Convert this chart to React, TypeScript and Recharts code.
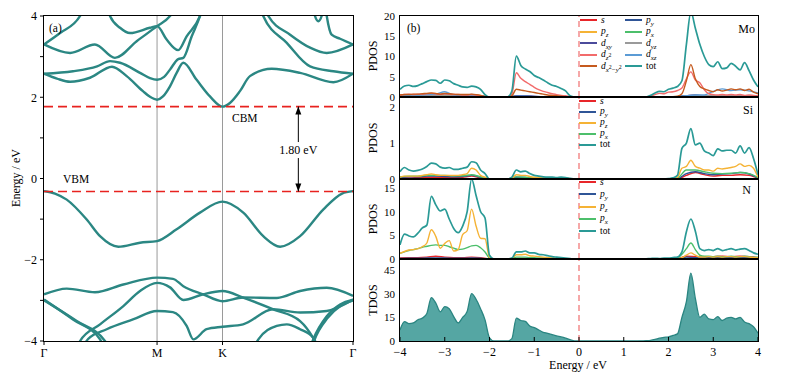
import React from 'react';
import { LineChart, Line, ComposedChart, Area, XAxis, YAxis, ReferenceLine } from 'recharts';

const FONT = '"Liberation Serif", "Times New Roman", serif';
const TEAL = '#2b8783';

// ---- (a) band structure ----
const kTicks = [0, 0.577, 0.911, 1.577];
const kLabels = ['Γ', 'M', 'K', 'Γ'];
const bandTicks = [-4, -3, -2, -1, 0, 1, 2, 3, 4];
const vbm = -0.32;
const cbm = 1.77;
const gapK = 1.298;
const gapLabel = '1.80 eV';

// each band: [k, E]
const vb1 = [[0, -0.31], [0.056, -0.37], [0.116, -0.52], [0.218, -1.01], [0.286, -1.42], [0.379, -1.68], [0.49, -1.58], [0.577, -1.54], [0.677, -1.25], [0.796, -0.84], [0.911, -0.57], [1.017, -0.84], [1.119, -1.42], [1.205, -1.68], [1.307, -1.42], [1.426, -0.76], [1.521, -0.37], [1.577, -0.31]];
const vb2 = [[0, -2.85], [0.116, -2.71], [0.26, -2.8], [0.405, -2.61], [0.577, -2.44], [0.658, -2.47], [0.711, -2.65], [0.812, -2.85], [0.911, -3.02], [1.016, -2.93], [1.189, -2.94], [1.307, -2.77], [1.443, -2.69], [1.577, -2.89]];
const vb3a = [[0, -2.98], [0.148, -3.47], [0.286, -3.96], [0.301, -4.1]];
const vb3b = [[0, -3.0], [0.167, -3.51], [0.311, -4.0], [0.327, -4.15]];
const vb4 = [[0.174, -4.1], [0.184, -4.0], [0.286, -3.59], [0.405, -3.14], [0.49, -2.77], [0.577, -2.57], [0.643, -2.68], [0.711, -2.99], [0.812, -2.85], [0.911, -2.77], [1.016, -2.93], [1.169, -3.22], [1.307, -3.51], [1.373, -3.92], [1.393, -4.1]];
const vb5 = [[0.204, -4.1], [0.225, -3.95], [0.32, -3.71], [0.454, -3.47], [0.577, -3.26], [0.658, -3.29], [0.728, -3.63], [0.762, -3.96], [0.83, -3.71], [0.911, -3.65], [1.016, -3.59], [1.169, -3.22], [1.307, -3.3], [1.443, -3.26], [1.577, -2.98]];
const vb6 = [[1.077, -4.1], [1.094, -3.96], [1.188, -3.63], [1.239, -3.59], [1.307, -3.71], [1.374, -3.92], [1.393, -4.1]];
const vb7a = [[1.363, -4.1], [1.374, -3.96], [1.443, -3.39], [1.511, -3.1], [1.577, -2.98]];
const vb7b = [[1.368, -4.15], [1.38, -3.98], [1.448, -3.43], [1.514, -3.13], [1.577, -3.0]];

const cb1 = [[0, 2.58], [0.066, 2.46], [0.133, 2.38], [0.235, 2.48], [0.347, 2.75], [0.422, 2.52], [0.505, 2.15], [0.541, 2.01], [0.577, 1.94], [0.607, 2.02], [0.643, 2.27], [0.677, 2.6], [0.711, 2.85], [0.779, 2.43], [0.847, 2.02], [0.911, 1.77], [0.949, 1.86], [1.0, 2.15], [1.051, 2.52], [1.162, 2.7], [1.307, 2.6], [1.477, 2.37], [1.577, 2.58]];
const cb2 = [[0, 2.58], [0.148, 2.64], [0.271, 2.76], [0.337, 2.89], [0.388, 2.85], [0.49, 2.6], [0.541, 2.47], [0.577, 2.43], [0.613, 2.5], [0.643, 2.68], [0.685, 2.94], [0.711, 2.97], [0.754, 3.5], [0.796, 4.0], [0.82, 4.4]];
const cb3 = [[0, 3.3], [0.133, 3.09], [0.26, 3.3], [0.362, 2.97], [0.473, 3.38], [0.577, 3.75], [0.643, 4.0], [0.67, 4.2]];
const cb4 = [[0.316, 4.3], [0.337, 4.0], [0.388, 3.71], [0.439, 3.58], [0.541, 3.71], [0.577, 3.75], [0.626, 3.42], [0.685, 3.16], [0.728, 3.5], [0.796, 4.0], [0.817, 4.3]];
const cb5 = [[0, 3.3], [0.082, 3.58], [0.184, 4.0], [0.204, 4.2]];
const cb6 = [[1.097, 4.3], [1.119, 4.0], [1.239, 3.34], [1.358, 2.76], [1.477, 2.64], [1.577, 2.58]];
const cb7 = [[1.123, 4.3], [1.145, 4.0], [1.256, 3.54], [1.358, 3.22], [1.443, 3.09], [1.577, 3.3]];
const cb8 = [[1.434, 4.3], [1.443, 4.0], [1.468, 3.54], [1.511, 3.44], [1.577, 3.3]];
const cb9 = [[1.373, 4.3], [1.383, 4.0], [1.4, 3.87], [1.417, 4.0], [1.424, 4.3]];

const bands = [vb1, vb2, vb3a, vb3b, vb4, vb5, vb6, vb7a, vb7b, cb1, cb2, cb3, cb4, cb5, cb6, cb7, cb8, cb9];

// ---- (b) DOS ----
const energy = [-4, -3.9, -3.8, -3.7, -3.6, -3.5, -3.4, -3.3, -3.2, -3.1, -3, -2.9, -2.8, -2.7, -2.6, -2.5, -2.4, -2.3, -2.2, -2.1, -2, -1.9, -1.8, -1.7, -1.6, -1.5, -1.4, -1.3, -1.2, -1.1, -1, -0.9, -0.8, -0.7, -0.6, -0.5, -0.4, -0.3, -0.2, -0.1, 0, 0.1, 0.2, 0.3, 0.4, 0.5, 0.6, 0.7, 0.8, 0.9, 1, 1.1, 1.2, 1.3, 1.4, 1.5, 1.6, 1.7, 1.8, 1.9, 2, 2.1, 2.2, 2.3, 2.4, 2.5, 2.6, 2.7, 2.8, 2.9, 3, 3.1, 3.2, 3.3, 3.4, 3.5, 3.6, 3.7, 3.8, 3.9, 4];
const energyCoarse = [-4, -3.8, -3.6, -3.4, -3.2, -3, -2.8, -2.6, -2.4, -2.2, -2, -1.8, -1.6, -1.4, -1.2, -1, -0.8, -0.6, -0.4, -0.2, 0, 0.2, 0.4, 0.6, 0.8, 1, 1.2, 1.4, 1.6, 1.8, 2, 2.2, 2.4, 2.6, 2.8, 3, 3.2, 3.4, 3.6, 3.8, 4];
const eTicks = [-4, -3, -2, -1, 0, 1, 2, 3, 4];

const moTot = [1.9, 2.7, 2.9, 2.6, 2.8, 3.3, 3.8, 4.2, 4.1, 3.4, 4.2, 4.0, 3.3, 2.9, 2.5, 2.4, 2.7, 2.5, 1.9, 0.6, 0, 0, 0, 0, 0, 1.5, 10.1, 7.8, 6.9, 6.3, 5.3, 4.8, 4.2, 3.5, 2.9, 2.6, 2.1, 1.5, 0.3, 0, 0, 0, 0, 0, 0, 0, 0, 0, 0, 0, 0, 0, 0, 0, 0, 0, 0.4, 1.0, 1.4, 1.3, 1.9, 2.2, 2.6, 4.0, 13, 21, 17, 13, 10, 8.0, 7.5, 8.7, 7.0, 7.2, 8.3, 7.6, 6.7, 8.5, 6.5, 4.2, 2.5];
const moDz2 = [0.5, 0.6, 0.7, 0.6, 0.7, 0.7, 0.8, 0.9, 0.8, 0.6, 0.8, 0.7, 0.6, 0.6, 0.5, 0.5, 0.6, 0.5, 0.3, 0.1, 0, 0, 0, 0, 0, 0.8, 6.0, 4.6, 3.8, 3.1, 2.4, 1.8, 1.4, 1.1, 0.8, 0.6, 0.4, 0.3, 0.1, 0, 0, 0, 0, 0, 0, 0, 0, 0, 0, 0, 0, 0, 0, 0, 0, 0, 0.2, 0.6, 0.9, 0.8, 1.2, 1.3, 1.6, 2.2, 4.5, 6.2, 4.2, 3.5, 1.8, 0.8, 0.6, 0.5, 0.6, 0.5, 0.6, 0.5, 0.6, 0.4, 0.5, 0.4, 0.3];
const moDx2y2 = [0.5, 0.6, 0.6, 0.7, 0.7, 0.8, 0.9, 1.0, 0.9, 0.7, 0.9, 0.8, 0.7, 0.6, 0.6, 0.6, 0.7, 0.6, 0.4, 0.1, 0, 0, 0, 0, 0, 0.3, 1.9, 1.7, 1.5, 1.3, 1.1, 0.9, 0.7, 0.5, 0.4, 0.3, 0.2, 0.1, 0.05, 0, 0, 0, 0, 0, 0, 0, 0, 0, 0, 0, 0, 0, 0, 0, 0, 0, 0, 0.05, 0.1, 0.1, 0.1, 0.1, 0.2, 0.8, 4.0, 8.0, 4.5, 2.6, 2.0, 1.6, 1.3, 1.8, 1.5, 1.7, 2.0, 1.8, 2.0, 1.6, 1.9, 1.2, 0.8];
const moS = [0.2, 0.2, 0.3, 0.3, 0.3, 0.2, 0.2, 0.2, 0.2, 0.1, 0, 0, 0, 0.1, 0.1, 0.05, 0, 0, 0, 0, 0, 0, 0, 0, 0, 0, 0, 0, 0, 0.05, 0.1, 0.1, 0.3, 0.4, 0.3, 0.2, 0.2, 0.2, 0.2, 0.2, 0.1];
const moPy = [0.1, 0.1, 0.2, 0.2, 0.2, 0.2, 0.1, 0.1, 0.1, 0.1, 0, 0, 0, 0.05, 0.05, 0.05, 0, 0, 0, 0, 0, 0, 0, 0, 0, 0, 0, 0, 0, 0, 0, 0.1, 0.2, 0.3, 0.2, 0.2, 0.2, 0.2, 0.1, 0.1, 0.1];
const moPz = [0.3, 0.3, 0.3, 0.4, 0.4, 0.3, 0.3, 0.3, 0.5, 0.4, 0, 0, 0, 0.2, 0.2, 0.1, 0.1, 0, 0, 0, 0, 0, 0, 0, 0, 0, 0, 0, 0, 0, 0.05, 0.1, 0.2, 0.3, 0.2, 0.2, 0.2, 0.2, 0.2, 0.1, 0.1];
const moPx = [0.1, 0.2, 0.2, 0.2, 0.2, 0.2, 0.1, 0.1, 0.1, 0.1, 0, 0, 0, 0.05, 0.05, 0, 0, 0, 0, 0, 0, 0, 0, 0, 0, 0, 0, 0, 0, 0, 0, 0.1, 0.2, 0.3, 0.2, 0.2, 0.2, 0.2, 0.1, 0.1, 0.1];
const moDxy = [0.4, 0.5, 0.5, 0.6, 0.6, 0.7, 0.5, 0.5, 0.4, 0.3, 0, 0, 0, 0.3, 0.3, 0.2, 0.1, 0.1, 0, 0, 0, 0, 0, 0, 0, 0, 0, 0, 0, 0, 0, 0.1, 0.3, 0.5, 0.3, 0.3, 0.3, 0.3, 0.3, 0.2, 0.2];
const moDyz = [0.3, 0.3, 0.4, 0.4, 0.4, 0.5, 0.4, 0.3, 0.3, 0.2, 0, 0, 0, 0.1, 0.1, 0.1, 0, 0, 0, 0, 0, 0, 0, 0, 0, 0, 0, 0, 0, 0, 0, 0.1, 0.2, 0.4, 0.3, 0.3, 0.4, 0.4, 0.3, 0.3, 0.2];
const moDxz = [0.4, 0.5, 0.5, 0.6, 0.7, 1.3, 0.5, 0.4, 0.4, 0.3, 0, 0, 0, 0.2, 0.2, 0.1, 0.1, 0, 0, 0, 0, 0, 0, 0, 0, 0, 0, 0, 0, 0, 0, 0.1, 0.3, 0.5, 0.5, 1.4, 2.0, 1.6, 1.8, 1.5, 1.0];

const siTot = [0.2, 0.32, 0.25, 0.22, 0.24, 0.28, 0.35, 0.44, 0.42, 0.33, 0.3, 0.32, 0.27, 0.27, 0.3, 0.33, 0.48, 0.45, 0.25, 0.15, 0, 0, 0, 0, 0, 0.05, 0.25, 0.2, 0.22, 0.15, 0.1, 0.08, 0.06, 0.05, 0.05, 0.04, 0.05, 0.04, 0.02, 0, 0, 0, 0, 0, 0, 0, 0, 0, 0, 0, 0, 0, 0, 0, 0, 0, 0, 0, 0, 0, 0.01, 0.03, 0.1, 0.85, 1.0, 1.4, 0.95, 1.0, 0.78, 0.72, 0.65, 0.84, 0.78, 0.8, 0.8, 0.72, 0.92, 0.72, 0.87, 0.57, 0.12];
const siPz = [0.05, 0.08, 0.08, 0.08, 0.08, 0.1, 0.12, 0.14, 0.12, 0.1, 0.1, 0.1, 0.1, 0.1, 0.12, 0.15, 0.3, 0.25, 0.1, 0.05, 0, 0, 0, 0, 0, 0.02, 0.12, 0.1, 0.1, 0.07, 0.05, 0.04, 0.03, 0.03, 0.02, 0.02, 0.02, 0.02, 0.01, 0, 0, 0, 0, 0, 0, 0, 0, 0, 0, 0, 0, 0, 0, 0, 0, 0, 0, 0, 0, 0, 0, 0.01, 0.04, 0.3, 0.35, 0.52, 0.35, 0.3, 0.25, 0.25, 0.22, 0.3, 0.28, 0.3, 0.32, 0.35, 0.42, 0.35, 0.38, 0.3, 0.05];
const siS = [0.03, 0.03, 0.04, 0.05, 0.05, 0.04, 0.04, 0.05, 0.08, 0.03, 0, 0, 0, 0.02, 0.02, 0.01, 0, 0, 0, 0, 0, 0, 0, 0, 0, 0, 0, 0, 0, 0, 0, 0, 0.1, 0.18, 0.12, 0.08, 0.1, 0.1, 0.12, 0.1, 0.02];
const siPy = [0.05, 0.06, 0.06, 0.08, 0.08, 0.07, 0.06, 0.07, 0.1, 0.05, 0, 0, 0, 0.05, 0.04, 0.02, 0.01, 0.01, 0, 0, 0, 0, 0, 0, 0, 0, 0, 0, 0, 0, 0, 0.01, 0.15, 0.2, 0.15, 0.12, 0.14, 0.15, 0.18, 0.14, 0.03];
const siPx = [0.06, 0.08, 0.08, 0.1, 0.1, 0.1, 0.09, 0.09, 0.12, 0.06, 0, 0, 0, 0.06, 0.05, 0.03, 0.02, 0.01, 0.01, 0, 0, 0, 0, 0, 0, 0, 0, 0, 0, 0, 0, 0.02, 0.25, 0.25, 0.2, 0.16, 0.15, 0.16, 0.18, 0.15, 0.04];

const nTot = [3.0, 5.3, 4.9, 4.7, 5.5, 6.6, 7.2, 13.3, 11.5, 10.2, 10.6, 8.5, 6.5, 5.6, 7.0, 10.0, 17.0, 13.5, 10.1, 8.7, 0.8, 0, 0, 0, 0, 0.2, 1.5, 1.5, 1.7, 1.3, 1.3, 1.0, 0.9, 0.7, 0.5, 0.4, 0.3, 0.2, 0.1, 0, 0, 0, 0, 0, 0, 0, 0, 0, 0, 0, 0, 0, 0, 0, 0, 0.05, 0.1, 0.15, 0.1, 0.2, 0.2, 0.3, 0.4, 1.5, 5.8, 8.5, 5.9, 2.2, 1.8, 2.0, 1.8, 2.2, 1.8, 2.0, 2.2, 1.9, 2.1, 2.2, 1.8, 1.3, 1.0];
const nPz = [1.2, 1.6, 1.9, 2.0, 2.2, 2.6, 3.4, 6.2, 4.8, 2.3, 3.3, 3.9, 1.7, 2.0, 5.2, 6.0, 10.6, 7.0, 4.4, 4.3, 0.3, 0, 0, 0, 0, 0.1, 0.9, 0.9, 1.0, 0.7, 0.6, 0.5, 0.4, 0.3, 0.2, 0.15, 0.1, 0.05, 0, 0, 0, 0, 0, 0, 0, 0, 0, 0, 0, 0, 0, 0, 0, 0, 0, 0, 0, 0, 0, 0, 0.02, 0.03, 0.05, 0.3, 0.8, 1.3, 0.8, 0.4, 0.4, 0.5, 0.4, 0.5, 0.4, 0.5, 0.5, 0.4, 0.5, 0.5, 0.4, 0.3, 0.3];
const nPx = [1.2, 1.5, 1.8, 2.0, 2.2, 2.5, 2.7, 2.9, 3.0, 2.9, 2.9, 2.6, 2.3, 2.0, 2.1, 2.4, 2.8, 2.9, 2.4, 1.5, 0.2, 0, 0, 0, 0, 0.05, 0.4, 0.4, 0.4, 0.3, 0.3, 0.2, 0.2, 0.15, 0.1, 0.1, 0.05, 0, 0, 0, 0, 0, 0, 0, 0, 0, 0, 0, 0, 0, 0, 0, 0, 0, 0, 0, 0, 0, 0, 0, 0.05, 0.1, 0.2, 1.0, 2.2, 3.4, 2.0, 0.8, 0.6, 0.6, 0.5, 0.6, 0.5, 0.5, 0.6, 0.5, 0.5, 0.6, 0.5, 0.4, 0.4];
const nS = [0.2, 0.3, 0.3, 0.4, 0.6, 0.4, 0.3, 0.3, 0.4, 0.3, 0, 0, 0, 0.1, 0.1, 0.05, 0.05, 0, 0, 0, 0, 0, 0, 0, 0, 0, 0, 0, 0, 0.02, 0.05, 0.1, 0.6, 0.5, 0.4, 0.5, 0.6, 0.5, 0.6, 0.5, 0.3];
const nPy = [0.1, 0.15, 0.15, 0.2, 0.2, 0.2, 0.15, 0.15, 0.2, 0.15, 0, 0, 0, 0.05, 0.05, 0.03, 0.02, 0, 0, 0, 0, 0, 0, 0, 0, 0, 0, 0, 0, 0, 0, 0.05, 0.4, 0.3, 0.3, 0.3, 0.3, 0.3, 0.3, 0.3, 0.2];

const tdos = [7.0, 12.3, 11.0, 11.5, 13.5, 14.5, 17.5, 27.5, 24.0, 18.5, 21.8, 20.5, 15.5, 11.5, 15.0, 18.7, 30.0, 26.5, 20.5, 13.4, 2.0, 0, 0, 0, 0, 1.5, 14.5, 13.0, 12.5, 9.5, 8.5, 7.0, 5.5, 4.9, 4.0, 3.2, 2.6, 1.8, 0.8, 0, 0, 0, 0, 0, 0, 0, 0, 0, 0, 0, 0, 0, 0, 0, 0.1, 0.2, 0.4, 1.0, 1.8, 2.3, 2.6, 3.5, 4.5, 15, 25, 43, 27, 15, 17, 14, 13.5, 15.5, 13, 14.5, 15, 14, 15, 12, 11, 9, 5];

const C = {
  s: '#e8262a', py: '#2f5597', pz: '#f5b335', px: '#4cbf6b', dxy: '#4b4b9b',
  dyz: '#9a9a9a', dz2: '#f26b6b', dxz: '#5b9bd5', dx2y2: '#c55a1e', tot: '#2a9a96',
};

const minus = (v: number) => (v < 0 ? '\u2212' + Math.abs(v) : String(v));
const tickStyle = { fontSize: 12, fill: '#000', fontFamily: FONT };
const tickStyleSm = { fontSize: 11, fill: '#000', fontFamily: FONT };

const it = (b: string) => <i>{b}</i>;
const subS = { fontSize: 7, lineHeight: 0 };
const L = {
  s: it('s'),
  py: <>{it('p')}<sub style={subS}>{it('y')}</sub></>,
  pz: <>{it('p')}<sub style={subS}>{it('z')}</sub></>,
  px: <>{it('p')}<sub style={subS}>{it('x')}</sub></>,
  dxy: <>{it('d')}<sub style={subS}>{it('xy')}</sub></>,
  dyz: <>{it('d')}<sub style={subS}>{it('yz')}</sub></>,
  dz2: <>{it('d')}<sub style={subS}>{it('z')}<sup>2</sup></sub></>,
  dxz: <>{it('d')}<sub style={subS}>{it('xz')}</sub></>,
  dx2y2: <>{it('d')}<sub style={subS}>{it('x')}<sup>2</sup>{'\u2212'}{it('y')}<sup>2</sup></sub></>,
  tot: <>tot</>,
};

type Curve = { id: string; color: string; xs: number[]; ys: number[]; w?: number };

function rows(xs: number[], ys: number[]) {
  return xs.map((e, i) => ({ e, v: ys[i] }));
}

function GapArrow(p: any) {
  const { x1, y1, y2 } = p;
  const top = Math.min(y1, y2);
  const bot = Math.max(y1, y2);
  const mid = (top + bot) / 2;
  return (
    <g>
      <line x1={x1} y1={top} x2={x1} y2={bot} stroke="#000" strokeWidth={1} />
      <polygon points={`${x1},${top} ${x1 - 3},${top + 8} ${x1 + 3},${top + 8}`} fill="#000" />
      <polygon points={`${x1},${bot} ${x1 - 3},${bot - 8} ${x1 + 3},${bot - 8}`} fill="#000" />
      <rect x={x1 - 21} y={mid - 7} width={42} height={16} fill="#fff" />
      <text x={x1} y={mid + 5} textAnchor="middle" fontSize={12} fontFamily={FONT} fill="#000">{gapLabel}</text>
    </g>
  );
}

function DosPanel({ top, plotH, yMax, yTicks, curves, bottom, area }: {
  top: number; plotH: number; yMax: number; yTicks: number[]; curves: Curve[]; bottom?: boolean; area?: boolean;
}) {
  const mT = 8;
  const mB = bottom ? 0 : 8;
  const axisH = bottom ? 38 : 0;
  return (
    <div style={{ position: 'absolute', left: 355, top: top - mT }}>
      <ComposedChart width={413} height={mT + plotH + mB + axisH} margin={{ top: mT, right: 10, bottom: mB, left: 0 }}>
        <XAxis type="number" dataKey="e" domain={[-4, 4]} ticks={eTicks} interval={0} allowDataOverflow
          height={axisH} tick={bottom ? tickStyle : false} tickFormatter={minus}
          tickSize={-4} tickMargin={10} axisLine={false} tickLine={{ stroke: '#000' }} />
        <YAxis type="number" domain={[0, yMax]} ticks={yTicks} interval={0} allowDataOverflow width={45}
          tickLine={false} tickSize={0} tickMargin={5} axisLine={false} tick={tickStyleSm} />
        <ReferenceLine x={0} stroke="#f27a7a" strokeDasharray="6 4" strokeWidth={1.3} />
        {curves.map((c) =>
          area ? (
            <Area key={c.id} data={rows(c.xs, c.ys)} dataKey="v" type="monotone" stroke="#2a8581" strokeWidth={1.3}
              fill="#55a6a3" fillOpacity={1} isAnimationActive={false} dot={false} activeDot={false} />
          ) : (
            <Line key={c.id} data={rows(c.xs, c.ys)} dataKey="v" type="monotone" stroke={c.color}
              strokeWidth={c.w ?? 1.4} dot={false} activeDot={false} isAnimationActive={false} />
          )
        )}
      </ComposedChart>
    </div>
  );
}

function Legend({ x, y, rowH, colW, cols }: { x: number; y: number; rowH: number; colW: number; cols: { color: string; label: React.ReactNode }[][] }) {
  return (
    <>
      {cols.map((col, ci) =>
        col.map((item, ri) => (
          <div key={ci + '-' + ri} style={{ position: 'absolute', left: x + ci * colW, top: y + ri * rowH - 5, height: 10, display: 'flex', alignItems: 'center', fontSize: 9.5, lineHeight: '9px', whiteSpace: 'nowrap' }}>
            <span style={{ display: 'inline-block', width: 17, height: 2, background: item.color, marginRight: 4 }} />
            <span>{item.label}</span>
          </div>
        ))
      )}
    </>
  );
}

const Text = ({ x, y, children, size = 12, rot, anchor = 'left' }: any) => (
  <div style={{
    position: 'absolute', left: x, top: y, fontSize: size, whiteSpace: 'nowrap', lineHeight: 1,
    transform: rot ? 'translate(-50%,-50%) rotate(-90deg)' : anchor === 'center' ? 'translate(-50%,-50%)' : anchor === 'right' ? 'translate(-100%,-50%)' : 'translate(0,-50%)',
  }}>{children}</div>
);

const Frame = ({ x, y, w, h }: { x: number; y: number; w: number; h: number }) => (
  <div style={{ position: 'absolute', left: x - 0.75, top: y - 0.75, width: w + 1.5, height: h + 1.5, border: '1.5px solid #000', boxSizing: 'border-box', pointerEvents: 'none' }} />
);

export default function App() {
  const moCurves: Curve[] = [
    { id: 's', color: C.s, xs: energyCoarse, ys: moS },
    { id: 'py', color: C.py, xs: energyCoarse, ys: moPy },
    { id: 'pz', color: C.pz, xs: energyCoarse, ys: moPz },
    { id: 'px', color: C.px, xs: energyCoarse, ys: moPx },
    { id: 'dxy', color: C.dxy, xs: energyCoarse, ys: moDxy },
    { id: 'dyz', color: C.dyz, xs: energyCoarse, ys: moDyz },
    { id: 'dxz', color: C.dxz, xs: energyCoarse, ys: moDxz },
    { id: 'dz2', color: C.dz2, xs: energy, ys: moDz2 },
    { id: 'dx2y2', color: C.dx2y2, xs: energy, ys: moDx2y2 },
    { id: 'tot', color: C.tot, xs: energy, ys: moTot, w: 1.7 },
  ];
  const siCurves: Curve[] = [
    { id: 's', color: C.s, xs: energyCoarse, ys: siS },
    { id: 'py', color: C.py, xs: energyCoarse, ys: siPy },
    { id: 'px', color: C.px, xs: energyCoarse, ys: siPx },
    { id: 'pz', color: C.pz, xs: energy, ys: siPz },
    { id: 'tot', color: C.tot, xs: energy, ys: siTot, w: 1.7 },
  ];
  const nCurves: Curve[] = [
    { id: 's', color: C.s, xs: energyCoarse, ys: nS },
    { id: 'py', color: C.py, xs: energyCoarse, ys: nPy },
    { id: 'px', color: C.px, xs: energy, ys: nPx },
    { id: 'pz', color: C.pz, xs: energy, ys: nPz },
    { id: 'tot', color: C.tot, xs: energy, ys: nTot, w: 1.7 },
  ];
  const pLegend = [[
    { color: C.s, label: L.s }, { color: C.py, label: L.py }, { color: C.pz, label: L.pz },
    { color: C.px, label: L.px }, { color: C.tot, label: L.tot },
  ]];

  return (
    <div style={{ position: 'absolute', left: 0, top: 0, width: 797, height: 379, background: '#fff', fontFamily: FONT, color: '#000', overflow: 'hidden' }}>
      {/* (a) band structure */}
      <div style={{ position: 'absolute', left: 0, top: 0 }}>
        <LineChart width={360} height={379} margin={{ top: 16, right: 7, bottom: 0, left: 0 }}>
          <XAxis type="number" dataKey="k" domain={[0, 1.577]} ticks={kTicks} interval={0} allowDataOverflow height={38}
            tick={tickStyle} tickFormatter={(v: number) => kLabels[kTicks.indexOf(v)] ?? ''} tickSize={4} tickMargin={3}
            axisLine={false} tickLine={{ stroke: '#000' }} />
          <YAxis type="number" domain={[-4, 4]} ticks={bandTicks} interval={0} allowDataOverflow width={44}
            tick={tickStyle} tickFormatter={(v: number) => (v % 2 === 0 ? minus(v) : '')} tickSize={4} tickMargin={3}
            axisLine={false} tickLine={{ stroke: '#000' }} />
          <ReferenceLine x={kTicks[1]} stroke="#9a9a9a" strokeWidth={1} />
          <ReferenceLine x={kTicks[2]} stroke="#9a9a9a" strokeWidth={1} />
          {bands.map((b, i) => (
            <Line key={i} data={b.map(([k, e]) => ({ k, e }))} dataKey="e" type="monotone" stroke={TEAL}
              strokeWidth={2.4} dot={false} activeDot={false} isAnimationActive={false} />
          ))}
          <ReferenceLine y={vbm} stroke="#e8221f" strokeDasharray="9 5" strokeWidth={1.6} />
          <ReferenceLine y={cbm} stroke="#e8221f" strokeDasharray="9 5" strokeWidth={1.6} />
          <ReferenceLine segment={[{ x: gapK, y: vbm }, { x: gapK, y: cbm }]} shape={GapArrow} />
        </LineChart>
      </div>
      <Frame x={44} y={16} w={309} h={325} />
      <Text x={49} y={29} size={11.5}>(a)</Text>
      <Text x={63} y={180} size={11.5}>VBM</Text>
      <Text x={232} y={119} size={11.5}>CBM</Text>
      <Text x={16} y={178} rot>Energy / eV</Text>

      {/* (b) DOS */}
      <DosPanel top={16} plotH={81} yMax={20} yTicks={[0, 5, 10, 15, 20]} curves={moCurves} />
      <DosPanel top={97} plotH={82} yMax={2.28} yTicks={[0, 1, 2]} curves={siCurves} />
      <DosPanel top={179} plotH={80} yMax={17} yTicks={[0, 5, 10, 15]} curves={nCurves} />
      <DosPanel top={259} plotH={82} yMax={52} yTicks={[0, 15, 30, 45]} curves={[{ id: 'tdos', color: C.tot, xs: energy, ys: tdos }]} bottom area />
      <Frame x={400} y={16} w={358} h={81} />
      <Frame x={400} y={97} w={358} h={82} />
      <Frame x={400} y={179} w={358} h={80} />
      <Frame x={400} y={259} w={358} h={82} />

      <Legend x={580} y={20} rowH={11.6} colW={45} cols={[
        [{ color: C.s, label: L.s }, { color: C.pz, label: L.pz }, { color: C.dxy, label: L.dxy }, { color: C.dz2, label: L.dz2 }, { color: C.dx2y2, label: L.dx2y2 }],
        [{ color: C.py, label: L.py }, { color: C.px, label: L.px }, { color: C.dyz, label: L.dyz }, { color: C.dxz, label: L.dxz }, { color: C.tot, label: L.tot }],
      ]} />
      <Legend x={579} y={101} rowH={10.9} colW={0} cols={pLegend} />
      <Legend x={579} y={182} rowH={12.3} colW={0} cols={pLegend} />

      <Text x={407} y={29} size={11.5}>(b)</Text>
      <Text x={755} y={29} anchor="right">Mo</Text>
      <Text x={753} y={110} anchor="right">Si</Text>
      <Text x={751} y={190} anchor="right">N</Text>
      <Text x={373} y={56} rot>PDOS</Text>
      <Text x={373} y={138} rot>PDOS</Text>
      <Text x={373} y={219} rot>PDOS</Text>
      <Text x={373} y={300} rot>TDOS</Text>
      <Text x={578} y={365} anchor="center">Energy / eV</Text>
    </div>
  );
}
